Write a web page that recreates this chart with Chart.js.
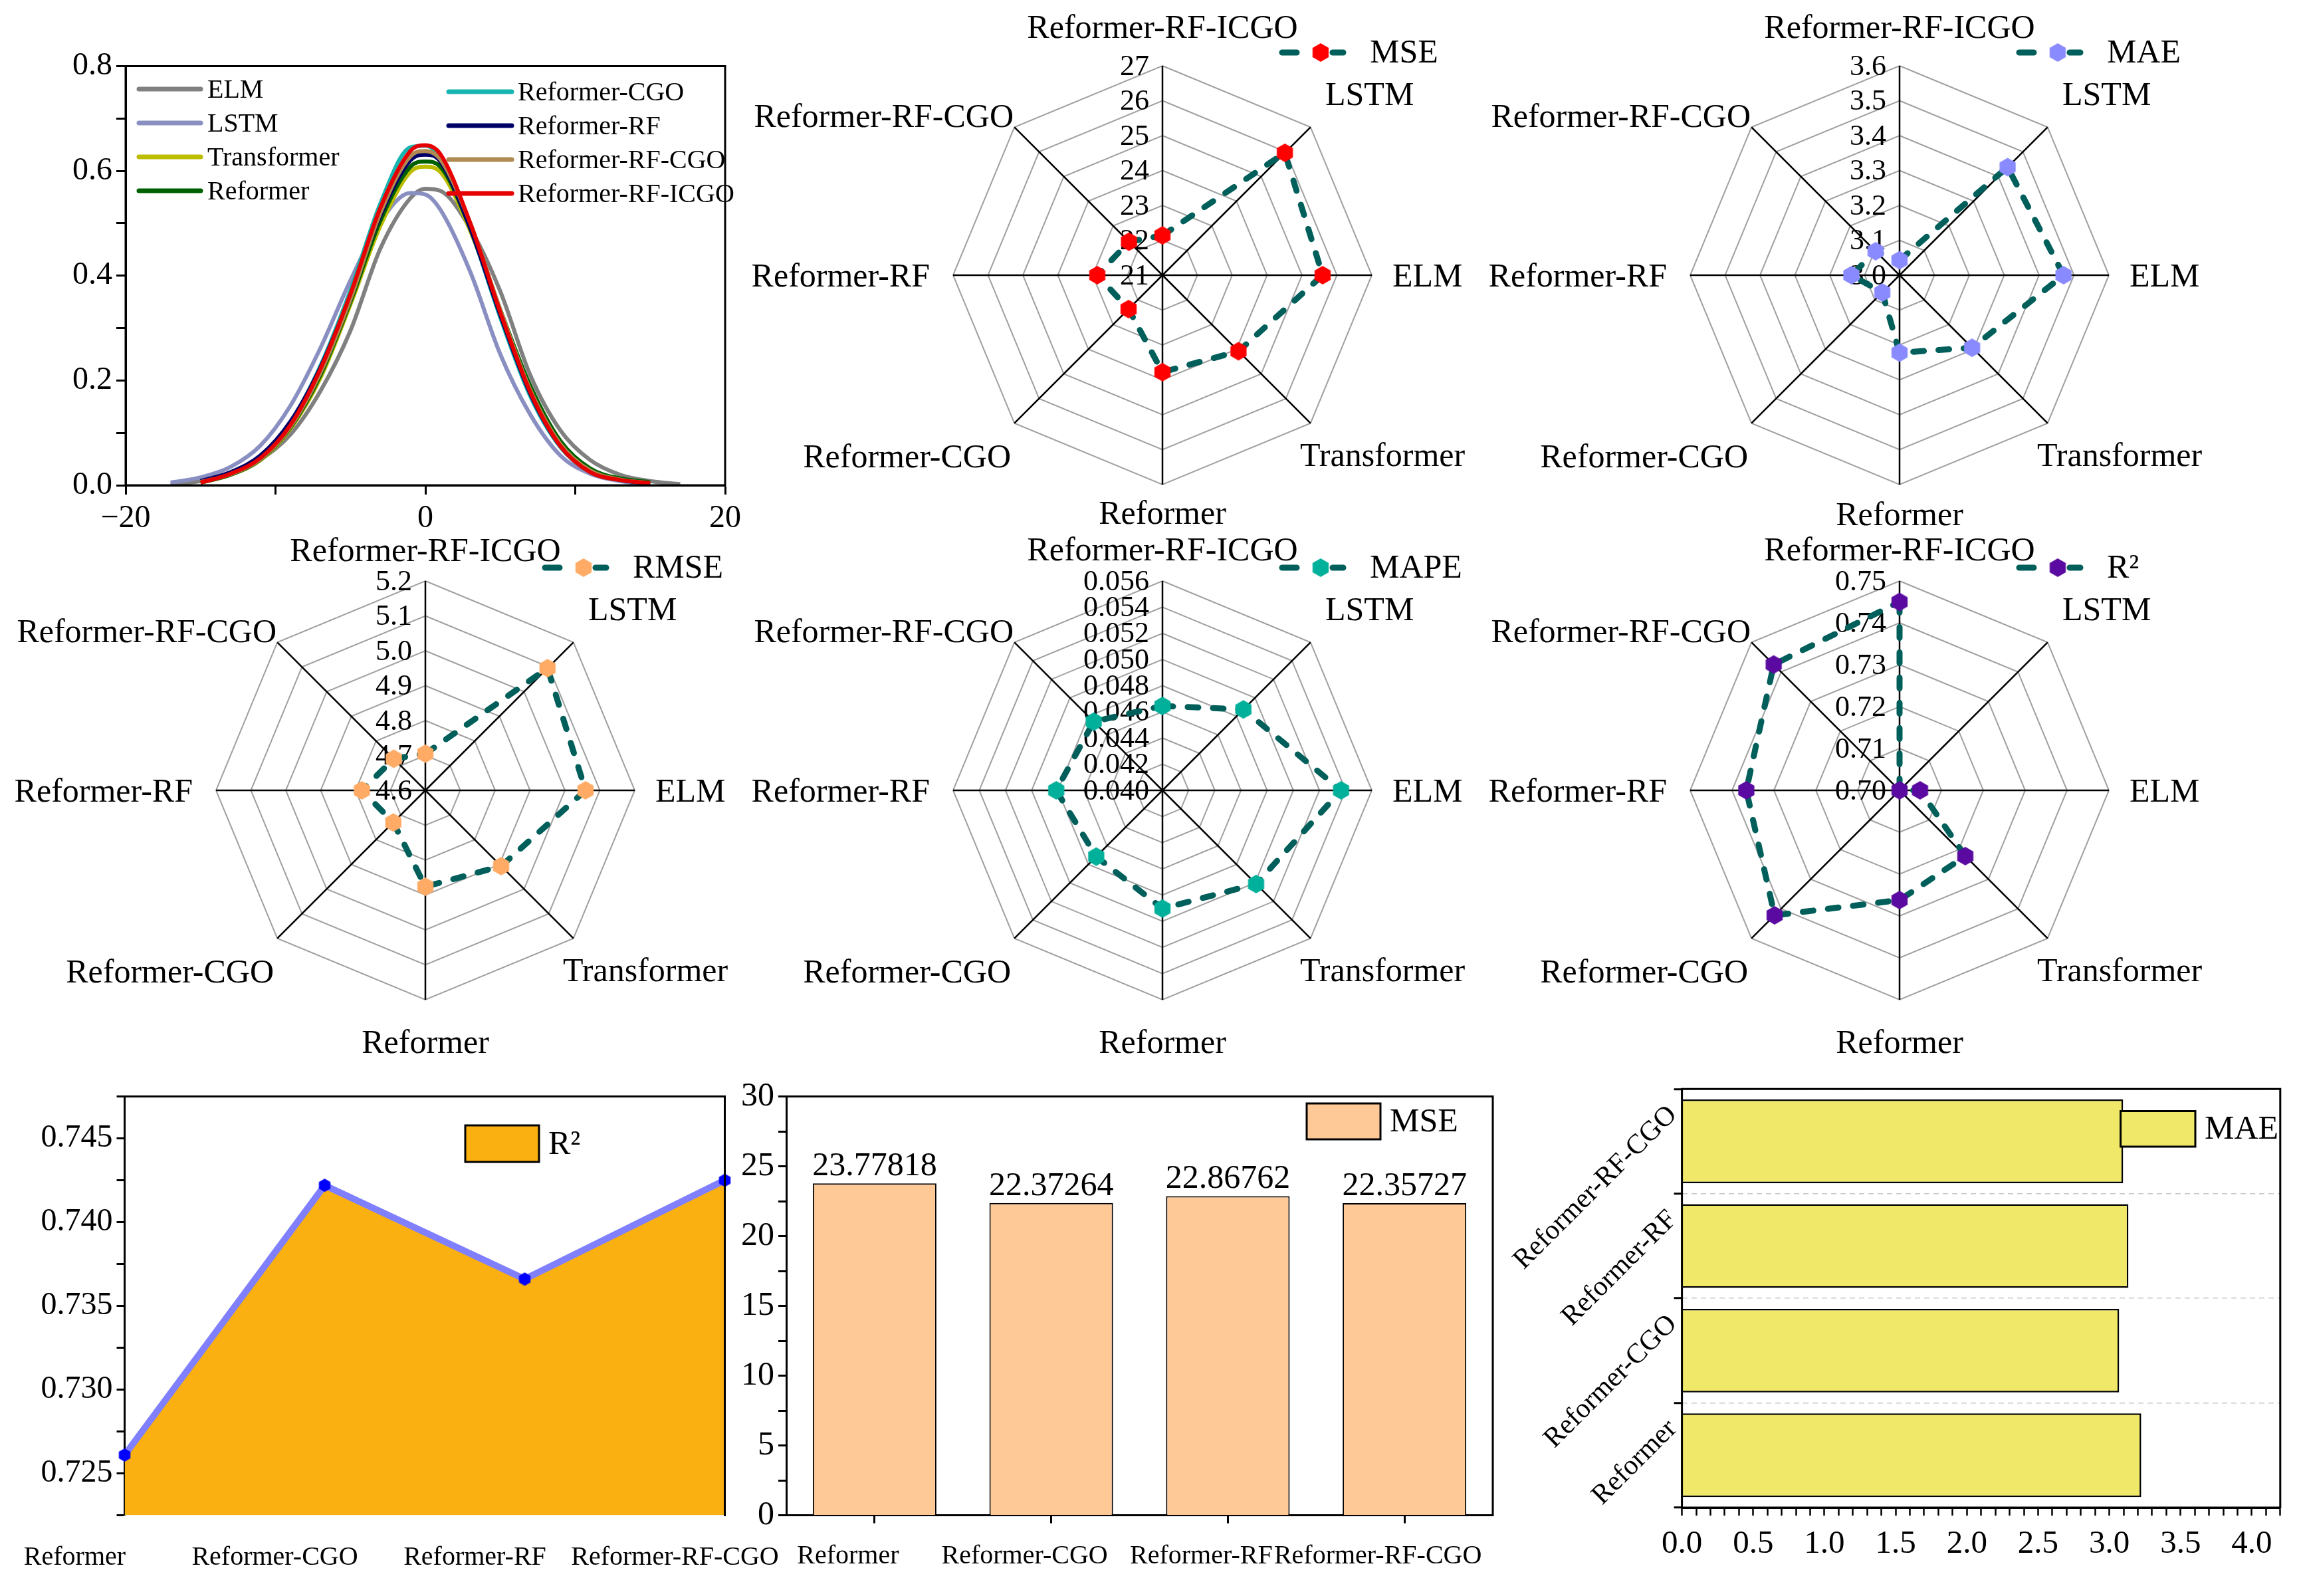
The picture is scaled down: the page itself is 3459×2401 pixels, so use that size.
<!DOCTYPE html>
<html>
<head>
<meta charset="utf-8">
<script src="https://cdn.jsdelivr.net/npm/chart.js@4.4.0/dist/chart.umd.min.js"></script>
<style>
  html, body { margin: 0; padding: 0; background: #fff; }
  body { width: 3459px; height: 2401px; position: relative; overflow: hidden; }
  canvas { position: absolute; }
</style>
</head>
<body>
<canvas id="density"></canvas>
<canvas id="radarMSE"></canvas>
<canvas id="radarMAE"></canvas>
<canvas id="radarRMSE"></canvas>
<canvas id="radarMAPE"></canvas>
<canvas id="radarR2"></canvas>
<canvas id="areaR2"></canvas>
<canvas id="barMSE"></canvas>
<canvas id="barMAE"></canvas>
<script>
// ---- data ----
const densityX = [-17, -15, -13, -11, -9, -7, -5, -3, -1, 0, 1, 3, 5, 7, 9, 11, 13, 15, 17];
const densityNames = ['ELM', 'LSTM', 'Transformer', 'Reformer', 'Reformer-CGO', 'Reformer-RF', 'Reformer-RF-CGO', 'Reformer-RF-ICGO'];
const densityELM         = [0.001, 0.008, 0.020, 0.049, 0.097, 0.180, 0.295, 0.452, 0.548, 0.566, 0.562, 0.490, 0.370, 0.210, 0.105, 0.048, 0.020, 0.008, 0.002];
const densityLSTM        = [0.005, 0.015, 0.035, 0.076, 0.152, 0.262, 0.391, 0.503, 0.558, 0.555, 0.526, 0.407, 0.250, 0.135, 0.057, 0.022, 0.008, 0.002, null];
const densityTransformer = [null, 0.005, 0.020, 0.048, 0.108, 0.205, 0.345, 0.495, 0.598, 0.608, 0.598, 0.485, 0.332, 0.188, 0.084, 0.031, 0.012, 0.005, null];
const densityReformer    = [null, 0.005, 0.020, 0.049, 0.110, 0.210, 0.350, 0.505, 0.608, 0.618, 0.608, 0.490, 0.335, 0.190, 0.085, 0.032, 0.013, 0.006, null];
const densityCGO         = [null, 0.006, 0.023, 0.054, 0.120, 0.228, 0.372, 0.538, 0.645, 0.648, 0.625, 0.490, 0.320, 0.170, 0.073, 0.025, 0.010, 0.004, null];
const densityRF          = [null, 0.008, 0.025, 0.057, 0.122, 0.225, 0.362, 0.515, 0.620, 0.631, 0.618, 0.490, 0.325, 0.175, 0.075, 0.026, 0.010, 0.003, null];
const densityRFCGO       = [null, 0.006, 0.021, 0.050, 0.112, 0.215, 0.355, 0.520, 0.628, 0.638, 0.622, 0.500, 0.335, 0.182, 0.079, 0.028, 0.011, 0.004, null];
const densityRFICGO      = [null, 0.005, 0.022, 0.052, 0.115, 0.222, 0.365, 0.530, 0.638, 0.649, 0.632, 0.500, 0.330, 0.178, 0.075, 0.025, 0.010, 0.004, null];

const radarAxes = ['Reformer-RF-ICGO', 'LSTM', 'ELM', 'Transformer', 'Reformer', 'Reformer-CGO', 'Reformer-RF', 'Reformer-RF-CGO'];
const mseRadar  = [22.14, 25.96, 25.59, 24.08, 23.778, 22.373, 22.868, 22.357];
const maeRadar  = [3.043, 3.438, 3.470, 3.294, 3.222, 3.070, 3.138, 3.097];
const rmseRadar = [4.705, 5.095, 5.059, 4.907, 4.876, 4.730, 4.782, 4.728];
const mapeRadar = [0.04645, 0.04875, 0.05365, 0.05012, 0.04903, 0.04716, 0.04812, 0.04743];
const r2Radar   = [0.7450, 0.7000, 0.7049, 0.7222, 0.7262, 0.7422, 0.7366, 0.7425];

const compareModels = ['Reformer', 'Reformer-CGO', 'Reformer-RF', 'Reformer-RF-CGO'];
const compareR2  = [0.7261, 0.7422, 0.7366, 0.7425];
const compareMSE = [23.77818, 22.37264, 22.86762, 22.35727];
const compareMAE = [3.224, 3.069, 3.134, 3.097];

// ---- style ----
const FONT = "'Liberation Serif', 'Times New Roman', serif";
const lineTeal = '#005f5a';
Chart.defaults.font.family = FONT;
Chart.defaults.color = '#000';
Chart.defaults.animation = false;

function place(id, left, top, w, h) {
  const c = document.getElementById(id);
  c.width = w; c.height = h;
  c.style.left = left + 'px'; c.style.top = top + 'px';
  c.style.width = w + 'px'; c.style.height = h + 'px';
  return c;
}

function hexagon(color, r) {
  const c = document.createElement('canvas');
  const w = Math.ceil(r * Math.sqrt(3)) + 2, h = 2 * r + 2;
  c.width = w; c.height = h;
  const g = c.getContext('2d');
  g.fillStyle = color;
  g.beginPath();
  for (let k = 0; k < 6; k++) {
    const a = Math.PI / 180 * (60 * k - 90);
    const x = w / 2 + r * Math.cos(a), y = h / 2 + r * Math.sin(a);
    if (k) g.lineTo(x, y); else g.moveTo(x, y);
  }
  g.closePath();
  g.fill();
  return c;
}

// box around plot area, sides picked by letters
function frame(sides) {
  return {
    id: 'frame',
    afterDatasetsDraw(chart) {
      const { ctx, chartArea: a } = chart;
      ctx.save();
      ctx.strokeStyle = '#000';
      ctx.lineWidth = 3;
      ctx.lineCap = 'square';
      ctx.beginPath();
      if (sides.includes('t')) { ctx.moveTo(a.left, a.top); ctx.lineTo(a.right, a.top); }
      if (sides.includes('r')) { ctx.moveTo(a.right, a.top); ctx.lineTo(a.right, a.bottom); }
      if (sides.includes('b')) { ctx.moveTo(a.left, a.bottom); ctx.lineTo(a.right, a.bottom); }
      if (sides.includes('l')) { ctx.moveTo(a.left, a.top); ctx.lineTo(a.left, a.bottom); }
      ctx.stroke();
      ctx.restore();
    }
  };
}

function boxLegend(o) {
  return {
    id: 'boxLegend',
    afterDraw(chart) {
      const { ctx, chartArea: a } = chart;
      ctx.save();
      ctx.fillStyle = o.color;
      ctx.fillRect(a.left + o.x, a.top + o.y, o.w, o.h);
      ctx.lineWidth = 3;
      ctx.strokeStyle = '#000';
      ctx.strokeRect(a.left + o.x, a.top + o.y, o.w, o.h);
      ctx.fillStyle = '#000';
      ctx.font = '50px ' + FONT;
      ctx.textAlign = 'left';
      ctx.textBaseline = 'middle';
      ctx.fillText(o.text, a.left + o.x + o.w + 14, a.top + o.y + o.h / 2 + 2);
      ctx.restore();
    }
  };
}

// ---- density curves ----
const densityColors = ['#808080', '#8a8fc2', '#bcbc00', '#006000', '#17b5b0', '#000066', '#b08a50', '#e60000'];
const densitySeries = [densityELM, densityLSTM, densityTransformer, densityReformer, densityCGO, densityRF, densityRFCGO, densityRFICGO];

const densityLegend = {
  id: 'densityLegend',
  afterDraw(chart) {
    const ctx = chart.ctx;
    ctx.save();
    ctx.font = '40px ' + FONT;
    ctx.textBaseline = 'middle';
    ctx.fillStyle = '#000';
    ctx.lineWidth = 7;
    ctx.lineCap = 'round';
    densityNames.forEach((name, i) => {
      const col = i < 4 ? 0 : 1, row = i % 4;
      const x0 = col ? 675 : 209, x1 = col ? 770 : 302, tx = col ? 779 : 312;
      const y = (col ? 98 : 94) + row * 51;
      ctx.strokeStyle = densityColors[i];
      ctx.beginPath(); ctx.moveTo(x0, y); ctx.lineTo(x1, y); ctx.stroke();
      ctx.fillText(name, tx, y + 2);
    });
    ctx.restore();
  }
};

new Chart(place('density', 0, 40, 1160, 800), {
  type: 'line',
  data: {
    datasets: densitySeries.map((arr, i) => ({
      label: densityNames[i],
      data: densityX.map((x, k) => ({ x: x, y: arr[k] })),
      borderColor: densityColors[i],
      borderWidth: 6,
      pointRadius: 0,
      cubicInterpolationMode: 'monotone',
      fill: false,
      order: 7 - i
    }))
  },
  options: {
    responsive: false, devicePixelRatio: 1,
    layout: { autoPadding: false, padding: { left: 0, top: 59.5, right: 69, bottom: 0 } },
    plugins: { legend: { display: false }, tooltip: { enabled: false } },
    scales: {
      x: {
        type: 'linear', min: -20, max: 20,
        afterFit: s => { s.height = 110; },
        ticks: {
          stepSize: 10, autoSkip: false, maxRotation: 0, padding: 8, font: { size: 48 },
          callback: v => v % 20 === 0 ? (v < 0 ? '\u2212' + Math.abs(v) : String(v)) : ''
        },
        grid: { drawOnChartArea: false, tickLength: 14, tickWidth: 3, tickColor: '#000' },
        border: { color: '#000', width: 3 }
      },
      y: {
        min: 0, max: 0.8,
        afterFit: s => { s.width = 189; },
        ticks: {
          stepSize: 0.1, autoSkip: false, padding: 6, font: { size: 48 },
          callback: v => Math.round(v * 10) % 2 === 0 ? v.toFixed(1) : ''
        },
        grid: { drawOnChartArea: false, tickLength: 14, tickWidth: 3, tickColor: '#000' },
        border: { color: '#000', width: 3 }
      }
    }
  },
  plugins: [frame('trbl'), densityLegend]
});

// ---- radars ----
// label anchor offsets from the centre: [dx, dy(text middle), align]
function radarLabelSpots(topDy, bottomDy) {
  return [
    [0, topDy, 'center'], [245, -273, 'left'], [346, 0, 'left'], [207, 270, 'left'],
    [0, bottomDy, 'center'], [-228, 272, 'right'], [-350, 0, 'right'], [-224, -240, 'right']
  ];
}

function radarDeco(cfg) {
  return {
    id: 'radarDeco',
    beforeDatasetsDraw(chart) {
      const s = chart.scales.r, ctx = chart.ctx;
      ctx.save();
      ctx.fillStyle = '#000';
      ctx.font = '44px ' + FONT;
      ctx.textAlign = 'right';
      ctx.textBaseline = 'middle';
      s.ticks.forEach(t => {
        const y = s.yCenter - s.getDistanceFromCenterForValue(t.value);
        ctx.fillText(t.value.toFixed(cfg.decimals), s.xCenter - 20, y + 2);
      });
      ctx.restore();
    },
    afterDraw(chart) {
      const s = chart.scales.r, ctx = chart.ctx;
      ctx.save();
      ctx.fillStyle = '#000';
      ctx.font = '50px ' + FONT;
      ctx.textBaseline = 'alphabetic';
      chart.data.labels.forEach((lab, i) => {
        const spot = cfg.spots[i];
        ctx.textAlign = spot[2];
        ctx.fillText(lab, s.xCenter + spot[0], s.yCenter + spot[1] + 17);
      });
      // legend
      const lx = s.xCenter + 176, ly = s.yCenter - 335;
      ctx.strokeStyle = lineTeal;
      ctx.lineWidth = 9;
      ctx.lineCap = 'round';
      ctx.beginPath();
      ctx.moveTo(lx + 4, ly); ctx.lineTo(lx + 26, ly);
      ctx.moveTo(lx + 80, ly); ctx.lineTo(lx + 96, ly);
      ctx.stroke();
      ctx.drawImage(cfg.marker, lx + 62 - cfg.marker.width / 2, ly - cfg.marker.height / 2);
      ctx.textAlign = 'left';
      ctx.textBaseline = 'middle';
      ctx.fillText(cfg.legend, lx + 136, ly + 2);
      ctx.restore();
    }
  };
}

function radar(id, cx, cy, values, min, max, step, decimals, color, legend, topDy, bottomDy) {
  const W = 1280, H = 820, R = 315;
  const marker = hexagon(color, 14);
  new Chart(place(id, cx - W / 2, cy - H / 2, W, H), {
    type: 'radar',
    data: {
      labels: radarAxes,
      datasets: [{
        label: legend, data: values,
        borderColor: lineTeal, borderWidth: 9, borderDash: [16, 22], borderCapStyle: 'round',
        fill: false, tension: 0,
        pointStyle: marker, pointRadius: 14, pointHoverRadius: 14
      }]
    },
    options: {
      responsive: false, devicePixelRatio: 1,
      layout: { autoPadding: false, padding: { left: W / 2 - R, right: W / 2 - R, top: H / 2 - R, bottom: H / 2 - R } },
      plugins: { legend: { display: false }, tooltip: { enabled: false } },
      scales: {
        r: {
          min: min, max: max,
          ticks: { stepSize: step, display: false },
          pointLabels: { display: false },
          grid: { color: '#a0a0a0', lineWidth: 2 },
          angleLines: { color: '#000', lineWidth: 2.5 }
        }
      }
    },
    plugins: [radarDeco({ decimals: decimals, marker: marker, legend: legend, spots: radarLabelSpots(topDy, bottomDy) })]
  });
}

radar('radarMSE', 1749, 414, mseRadar, 21, 27, 1, 0, '#ff0000', 'MSE', -374, 357);
radar('radarMAE', 2858, 414, maeRadar, 3.0, 3.6, 0.1, 1, '#8a8aff', 'MAE', -374, 359);
radar('radarRMSE', 640, 1189, rmseRadar, 4.6, 5.2, 0.1, 1, '#ffab66', 'RMSE', -362, 378);
radar('radarMAPE', 1749, 1189, mapeRadar, 0.040, 0.056, 0.002, 3, '#00b09a', 'MAPE', -363, 378);
radar('radarR2', 2858, 1189, r2Radar, 0.70, 0.75, 0.01, 2, '#5a0aa0', 'R\u00B2', -363, 378);

// ---- area chart R2 ----
new Chart(place('areaR2', 0, 1580, 1320, 821), {
  type: 'line',
  data: {
    labels: compareModels,
    datasets: [{
      label: 'R\u00B2', data: compareR2,
      borderColor: '#8080ff', borderWidth: 10,
      backgroundColor: '#f9b010', fill: 'start',
      pointStyle: hexagon('#0000ff', 10), pointRadius: 10, tension: 0
    }]
  },
  options: {
    responsive: false, devicePixelRatio: 1,
    layout: { autoPadding: false, padding: { left: 0, top: 69.6, right: 229.5, bottom: 0 } },
    plugins: { legend: { display: false }, tooltip: { enabled: false } },
    scales: {
      x: {
        offset: false,
        afterFit: s => { s.height = 121.4; },
        ticks: { autoSkip: false, minRotation: 0, maxRotation: 0, labelOffset: -75, padding: 40, font: { size: 40 } },
        grid: { display: false, drawTicks: false },
        border: { display: false }
      },
      y: {
        min: 0.7225, max: 0.7475,
        afterFit: s => { s.width = 187.5; },
        ticks: {
          stepSize: 0.0025, autoSkip: false, padding: 6, font: { size: 48 },
          callback: v => Math.round(v / 0.0025) % 2 === 0 ? v.toFixed(3) : ''
        },
        grid: { drawOnChartArea: false, tickLength: 12, tickWidth: 3, tickColor: '#000' },
        border: { color: '#000', width: 3 }
      }
    }
  },
  plugins: [frame('tr'), boxLegend({ x: 512.5, y: 43.4, w: 111, h: 55, color: '#f9b010', text: 'R\u00B2' })]
});

// ---- bar chart MSE ----
const barValueLabels = {
  id: 'barValueLabels',
  afterDatasetsDraw(chart) {
    const ctx = chart.ctx;
    const meta = chart.getDatasetMeta(0);
    ctx.save();
    ctx.fillStyle = '#000';
    ctx.font = '50px ' + FONT;
    ctx.textAlign = 'center';
    ctx.textBaseline = 'alphabetic';
    meta.data.forEach((el, i) => {
      ctx.fillText(compareMSE[i].toFixed(5), el.x, el.y - 12);
    });
    ctx.restore();
  }
};

new Chart(place('barMSE', 1100, 1580, 1200, 821), {
  type: 'bar',
  data: {
    labels: compareModels,
    datasets: [{
      label: 'MSE', data: compareMSE,
      backgroundColor: '#ffc897', borderColor: '#000', borderWidth: 2,
      barPercentage: 0.7, categoryPercentage: 1
    }]
  },
  options: {
    responsive: false, devicePixelRatio: 1,
    layout: { autoPadding: false, padding: { left: 0, top: 69.6, right: 37, bottom: 0 } },
    plugins: { legend: { display: false }, tooltip: { enabled: false } },
    scales: {
      x: {
        afterFit: s => { s.height = 121.4; },
        ticks: { autoSkip: false, minRotation: 0, maxRotation: 0, labelOffset: -40, padding: 26, font: { size: 40 } },
        grid: { offset: false, drawOnChartArea: false, tickLength: 12, tickWidth: 3, tickColor: '#000' },
        border: { color: '#000', width: 3 }
      },
      y: {
        min: 0, max: 30,
        afterFit: s => { s.width = 83; },
        ticks: {
          stepSize: 2.5, autoSkip: false, padding: 6, font: { size: 50 },
          callback: v => Math.round(v / 2.5) % 2 === 0 ? String(v) : ''
        },
        grid: { drawOnChartArea: false, tickLength: 12, tickWidth: 3, tickColor: '#000' },
        border: { color: '#000', width: 3 }
      }
    }
  },
  plugins: [frame('tr'), barValueLabels, boxLegend({ x: 783, y: 10.4, w: 111, h: 54, color: '#ffc897', text: 'MSE' })]
});

// ---- horizontal bar MAE ----
new Chart(place('barMAE', 2250, 1580, 1209, 821), {
  type: 'bar',
  data: {
    labels: compareModels,
    datasets: [{
      label: 'MAE', data: compareMAE,
      backgroundColor: '#f0e868', borderColor: '#000', borderWidth: 2.5,
      barPercentage: 0.8, categoryPercentage: 1
    }]
  },
  options: {
    indexAxis: 'y',
    responsive: false, devicePixelRatio: 1,
    layout: { autoPadding: false, padding: { left: 0, top: 58.3, right: 28.2, bottom: 0 } },
    plugins: { legend: { display: false }, tooltip: { enabled: false } },
    scales: {
      x: {
        min: 0, max: 4.2,
        afterFit: s => { s.height = 133; },
        ticks: {
          stepSize: 0.1, autoSkip: false, maxRotation: 0, padding: 14, font: { size: 49 },
          callback: v => Math.round(v * 10) % 5 === 0 ? v.toFixed(1) : ''
        },
        grid: { drawOnChartArea: false, tickLength: 12, tickWidth: 2.5, tickColor: '#000' },
        border: { color: '#000', width: 3 }
      },
      y: {
        reverse: true,
        afterFit: s => { s.width = 280.6; },
        ticks: { autoSkip: false, minRotation: 45, maxRotation: 45, labelOffset: -46, padding: 2, font: { size: 42 } },
        grid: { color: '#c8c8c8', lineWidth: 1.5, tickLength: 12, tickWidth: 3, tickColor: '#000' },
        border: { display: false, dash: [8, 6] }
      }
    }
  },
  plugins: [frame('trbl'), boxLegend({ x: 660, y: 33.2, w: 112.4, h: 53.5, color: '#f0e868', text: 'MAE' })]
});
</script>
</body>
</html>
